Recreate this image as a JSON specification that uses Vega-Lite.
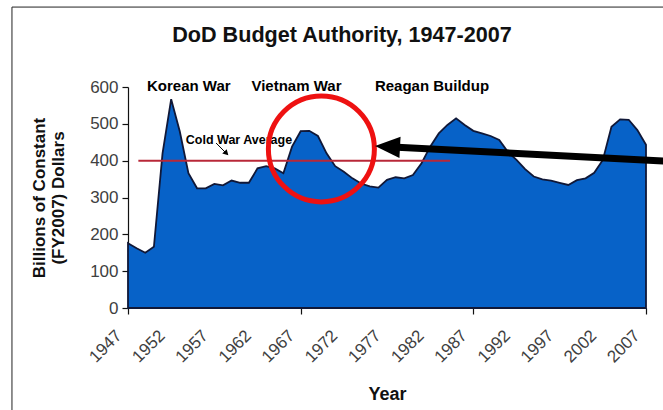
{
  "$schema": "https://vega.github.io/schema/vega-lite/v6.json",
  "width": 518,
  "height": 221,
  "autosize": {"type": "none"},
  "padding": {"left": 128, "top": 87, "right": 17, "bottom": 102},
  "background": "white",
  "config": {
    "view": {"stroke": null},
    "font": "Liberation Sans"
  },
  "title": {
    "text": "DoD Budget Authority, 1947-2007",
    "fontSize": 21.6,
    "fontWeight": "bold",
    "font": "Liberation Sans",
    "color": "#111111",
    "anchor": "middle",
    "frame": "group",
    "dx": -45,
    "baseline": "alphabetic",
    "offset": -57.5
  },
  "datasets": {
    "budget": [
      {"year": 1947, "value": 176},
      {"year": 1948, "value": 162},
      {"year": 1949, "value": 150},
      {"year": 1950, "value": 166},
      {"year": 1951, "value": 420},
      {"year": 1952, "value": 567},
      {"year": 1953, "value": 479},
      {"year": 1954, "value": 366},
      {"year": 1955, "value": 325},
      {"year": 1956, "value": 325},
      {"year": 1957, "value": 337},
      {"year": 1958, "value": 333},
      {"year": 1959, "value": 346},
      {"year": 1960, "value": 340},
      {"year": 1961, "value": 340},
      {"year": 1962, "value": 379},
      {"year": 1963, "value": 385},
      {"year": 1964, "value": 379},
      {"year": 1965, "value": 366},
      {"year": 1966, "value": 438},
      {"year": 1967, "value": 480},
      {"year": 1968, "value": 481},
      {"year": 1969, "value": 467},
      {"year": 1970, "value": 420},
      {"year": 1971, "value": 385},
      {"year": 1972, "value": 370},
      {"year": 1973, "value": 352},
      {"year": 1974, "value": 338},
      {"year": 1975, "value": 330},
      {"year": 1976, "value": 327},
      {"year": 1977, "value": 348},
      {"year": 1978, "value": 355},
      {"year": 1979, "value": 352},
      {"year": 1980, "value": 361},
      {"year": 1981, "value": 393},
      {"year": 1982, "value": 438},
      {"year": 1983, "value": 474},
      {"year": 1984, "value": 497},
      {"year": 1985, "value": 515},
      {"year": 1986, "value": 497},
      {"year": 1987, "value": 481},
      {"year": 1988, "value": 474},
      {"year": 1989, "value": 467},
      {"year": 1990, "value": 456},
      {"year": 1991, "value": 424},
      {"year": 1992, "value": 402},
      {"year": 1993, "value": 377},
      {"year": 1994, "value": 357},
      {"year": 1995, "value": 349},
      {"year": 1996, "value": 346},
      {"year": 1997, "value": 340},
      {"year": 1998, "value": 334},
      {"year": 1999, "value": 347},
      {"year": 2000, "value": 352},
      {"year": 2001, "value": 367},
      {"year": 2002, "value": 402},
      {"year": 2003, "value": 492},
      {"year": 2004, "value": 512},
      {"year": 2005, "value": 511},
      {"year": 2006, "value": 483},
      {"year": 2007, "value": 443}
    ]
  },
  "layer": [
    {
      "data": {"name": "budget"},
      "mark": {"type": "area", "color": "#0762c8", "stroke": "#101838", "strokeWidth": 1.8, "opacity": 1},
      "encoding": {
        "x": {
          "field": "year",
          "type": "quantitative",
          "scale": {"domain": [1947, 2007], "nice": false, "zero": false},
          "axis": {
            "title": "Year",
            "titleFont": "Liberation Sans",
            "titleFontSize": 18,
            "titleFontWeight": "bold",
            "titleColor": "#111111",
            "titlePadding": 20,
            "values": [1947, 1951, 1952, 1955, 1957, 1959, 1962, 1963, 1967, 1971, 1972, 1975, 1977, 1979, 1982, 1983, 1987, 1991, 1992, 1995, 1997, 1999, 2002, 2003, 2007],
            "labelExpr": "(datum.value - 1947) % 5 == 0 ? '' + datum.value : ''",
            "labelOverlap": false,
            "labelAngle": -45,
            "labelFontSize": 17,
            "labelColor": "#404040",
            "labelPadding": 13,
            "labelOffset": -15,
            "labelFlush": false,
            "grid": false,
            "domainColor": "#111111",
            "domainWidth": 1.2,
            "tickSize": 6,
            "tickWidth": 1.2,
            "tickColor": {"condition": {"test": "(datum.value - 1947) % 4 == 0", "value": "#111111"}, "value": "transparent"}
          }
        },
        "y": {
          "field": "value",
          "type": "quantitative",
          "scale": {"domain": [0, 600], "nice": false},
          "axis": {
            "title": ["Billions of Constant", "(FY2007) Dollars"],
            "titleFont": "Liberation Sans",
            "titleFontSize": 17,
            "titleFontWeight": "bold",
            "titleColor": "#111111",
            "titleLineHeight": 19,
            "titlePadding": 22,
            "values": [0, 100, 200, 300, 400, 500, 600],
            "tickCount": 7,
            "labelOverlap": false,
            "labelFontSize": 17,
            "labelColor": "#404040",
            "labelPadding": 4,
            "grid": false,
            "domainColor": "#111111",
            "domainWidth": 1.2,
            "tickColor": "#111111",
            "tickSize": 6,
            "tickWidth": 1.2
          }
        }
      }
    },
    {
      "data": {"values": [{"x1": 1933.56, "x2": 2030, "y1": 817, "y2": -400}]},
      "mark": {"type": "rect", "fill": null, "filled": false, "stroke": "#222222", "strokeWidth": 1, "clip": false},
      "encoding": {
        "x": {"field": "x1", "type": "quantitative"},
        "x2": {"field": "x2"},
        "y": {"field": "y1", "type": "quantitative"},
        "y2": {"field": "y2"}
      }
    },
    {
      "data": {"values": [{"x1": 1948.2, "x2": 1984.3, "y": 400}]},
      "mark": {"type": "rule", "color": "#b82838", "strokeWidth": 2},
      "encoding": {
        "x": {"field": "x1", "type": "quantitative"},
        "x2": {"field": "x2"},
        "y": {"field": "y", "type": "quantitative"}
      }
    },
    {
      "data": {"values": [
        {"year": 1949.2, "value": 589, "label": "Korean War"},
        {"year": 1961.3, "value": 589, "label": "Vietnam War"},
        {"year": 1975.6, "value": 589, "label": "Reagan Buildup"}
      ]},
      "mark": {"type": "text", "align": "left", "baseline": "alphabetic", "fontWeight": "bold", "fontSize": 15, "color": "#000000", "clip": false, "letterSpacing": -0.3},
      "encoding": {
        "x": {"field": "year", "type": "quantitative"},
        "y": {"field": "value", "type": "quantitative"},
        "text": {"field": "label"}
      }
    },
    {
      "data": {"values": [{"year": 1953.7, "value": 445, "label": "Cold War Average"}]},
      "mark": {"type": "text", "align": "left", "baseline": "alphabetic", "fontWeight": "bold", "fontSize": 12.5, "color": "#000000", "letterSpacing": -0.2},
      "encoding": {
        "x": {"field": "year", "type": "quantitative"},
        "y": {"field": "value", "type": "quantitative"},
        "text": {"field": "label"}
      }
    },
    {
      "data": {"values": [{"x1": 1957.2, "y1": 448, "x2": 1958.3, "y2": 422}]},
      "mark": {"type": "rule", "color": "#000000", "strokeWidth": 1},
      "encoding": {
        "x": {"field": "x1", "type": "quantitative"},
        "y": {"field": "y1", "type": "quantitative"},
        "x2": {"field": "x2"},
        "y2": {"field": "y2"}
      }
    },
    {
      "data": {"values": [{"year": 1958.4, "value": 420}]},
      "mark": {"type": "point", "shape": "triangle-right", "filled": true, "color": "#000000", "size": 40, "angle": 45, "opacity": 1},
      "encoding": {
        "x": {"field": "year", "type": "quantitative"},
        "y": {"field": "value", "type": "quantitative"}
      }
    },
    {
      "data": {"values": [{"year": 1969.4, "value": 432}]},
      "mark": {"type": "point", "shape": "circle", "filled": false, "stroke": "#ee1111", "strokeWidth": 5, "size": 11236, "opacity": 1, "clip": false},
      "encoding": {
        "x": {"field": "year", "type": "quantitative"},
        "y": {"field": "value", "type": "quantitative"}
      }
    },
    {
      "data": {"values": [{"x1": 1977.06, "y1": 438.1, "x2": 2010, "y2": 397.7}]},
      "mark": {"type": "rule", "color": "#000000", "strokeWidth": 7, "clip": false},
      "encoding": {
        "x": {"field": "x1", "type": "quantitative"},
        "y": {"field": "y1", "type": "quantitative"},
        "x2": {"field": "x2"},
        "y2": {"field": "y2"}
      }
    },
    {
      "data": {"values": [{"year": 1977.06, "value": 438.1}]},
      "mark": {"type": "point", "shape": "M -1 0 L 1 -0.85 L 1 0.85 Z", "filled": true, "color": "#000000", "size": 625, "angle": 3, "opacity": 1, "clip": false},
      "encoding": {
        "x": {"field": "year", "type": "quantitative"},
        "y": {"field": "value", "type": "quantitative"}
      }
    }
  ]
}
